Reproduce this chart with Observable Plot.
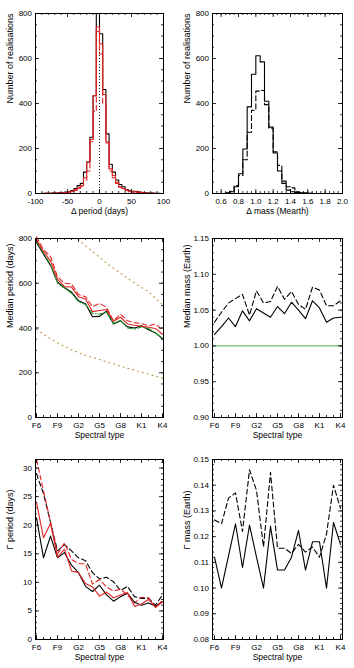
<!DOCTYPE html>
<html><head><meta charset="utf-8">
<script src="https://cdn.jsdelivr.net/npm/d3@7"></script>
<script src="https://cdn.jsdelivr.net/npm/@observablehq/plot@0.6"></script>
<style>
body{margin:0;background:#fff}
#c{position:relative;width:354px;height:668px;overflow:hidden}
#c > svg{position:absolute}
</style>
</head><body><div id="c"></div>
<script>
// ---------- data ----------
const types = ["F6","F7","F8","F9","G0","G1","G2","G3","G4","G5","G6","G7","G8","G9","K0","K1","K2","K3","K4"];
const typeTicks = ["F6","F9","G2","G5","G8","K1","K4"];

// panel 1: Δ period histogram, bins of 5 days from -100 to 100 (left edges)
const periodBinWidth = 5;
const periodBinLeft = d3.range(-100, 100, periodBinWidth);
const periodBlack   = [0,0,1,1,1,2,2,3,4,6,9,13,22,35,45,95,140,250,435,800, 710,462,265,130,95,60,40,30,18,12,10,8,6,4,3,2,2,1,1,0];
const periodRed     = [0,0,0,1,1,1,2,2,3,4,6,10,16,25,35,70,140,240,435,740, 665,440,230,110,80,50,30,22,15,8,6,10,8,3,2,1,1,1,0,0];
const periodRedDash = [0,0,0,1,1,1,2,2,3,4,6,9,14,22,30,60,100,230,365,720, 620,400,225,100,70,45,28,22,15,10,8,5,4,3,2,1,1,0,0,0];

// panel 2: Δ mass histogram, bins of 0.05 from 0.5 to 2.0 (left edges)
const massBinWidth = 0.05;
const massBinLeft = d3.range(0, 30).map(i => 0.5 + i * massBinWidth);
const massSolid  = [0,0,0,3,8,30,88,198,385,530,612,585,410,295,180,100,45,15,8,5,3,2,1,0,0,0,0,0,0,0];
const massDashed = [0,0,0,2,10,35,80,150,272,370,455,458,395,290,185,125,55,30,25,8,4,2,1,0,0,0,0,0,0,0];

// panel 3: median period (days)
const medPerBlack   = [782,730,680,605,580,560,522,508,450,452,475,418,432,405,400,410,392,378,352];
const medPerGreen   = [788,735,685,600,578,555,518,505,465,462,470,420,435,400,395,405,398,378,355];
const medPerRed     = [795,742,700,618,585,583,540,530,473,478,483,430,448,418,412,408,403,398,372];
const medPerRedDash = [808,750,720,630,600,597,550,540,495,510,492,432,462,432,424,420,410,418,390];
const medPerLowBound = [394,372,352,334,318,303,290,278,268,259,249,239,229,220,212,203,194,185,176];
const medPerUpBound  = [1100,1035,975,920,875,830,795,768,742,717,690,667,645,623,601,581,562,532,504];

// panel 4: median mass (Earth)
const medMassSolid  = [1.016,1.027,1.039,1.027,1.049,1.035,1.052,1.046,1.040,1.055,1.045,1.061,1.050,1.038,1.063,1.053,1.033,1.039,1.040];
const medMassDashed = [1.033,1.047,1.060,1.066,1.072,1.043,1.077,1.060,1.062,1.083,1.065,1.076,1.058,1.051,1.082,1.078,1.056,1.056,1.063];
const medMassRef = 1.00;

// panel 5: Γ period (days)
const gPerBlack     = [21.3,14.3,18.1,14.3,15.2,13.0,11.7,9.3,8.4,9.5,7.8,6.7,7.5,8.1,6.5,6.0,6.4,5.8,6.6];
const gPerRed       = [24.0,17.8,20.3,14.4,15.8,12.0,11.7,9.8,9.2,7.6,8.3,7.3,7.8,8.2,5.8,6.2,7.0,5.6,6.6];
const gPerBlackDash = [29.0,25.5,20.5,15.5,16.6,15.5,14.3,13.8,11.7,10.6,10.9,10.1,8.6,9.3,7.5,7.2,7.2,6.0,7.8];
const gPerRedDash   = [31.5,26.0,20.6,15.0,16.9,14.0,13.3,13.2,9.7,10.5,9.2,8.5,8.8,7.8,6.4,7.4,7.3,5.7,6.8];

// panel 6: Γ mass (Earth)
const gMassSolid  = [0.112,0.100,0.1125,0.125,0.108,0.1245,0.112,0.100,0.124,0.107,0.107,0.112,0.1224,0.107,0.118,0.118,0.100,0.1255,0.117];
const gMassDashed = [0.1265,0.125,0.135,0.137,0.122,0.146,0.138,0.116,0.145,0.1155,0.1155,0.1135,0.117,0.114,0.116,0.112,0.121,0.140,0.131];

// ---------- helpers ----------
const RED = "#e02424", GREEN = "#1f9e2a", BROWN = "#c0904a";
const FONT = "'Liberation Sans', Arial, Helvetica, sans-serif";
const DASH = "5,3";

function steps(lefts, counts, w) {
  const pts = lefts.map((x, i) => ({x, y: counts[i]}));
  pts.push({x: lefts[lefts.length - 1] + w, y: counts[counts.length - 1]});
  return pts;
}
function series(values) { return types.map((t, i) => ({t, v: values[i]})); }

function panel(o) {
  const pw = o.width - o.ml - o.mr, ph = o.height - o.mt - o.mb;
  const M = 4, m = 2;
  const ticks = [
    Plot.ruleX(o.xMinor, {x: d => d, insetTop: ph - m, strokeWidth: 0.8}),
    Plot.ruleX(o.xMinor, {x: d => d, insetBottom: ph - m, strokeWidth: 0.8}),
    Plot.ruleX(o.xTicks, {x: d => d, insetTop: ph - M, strokeWidth: 0.8}),
    Plot.ruleX(o.xTicks, {x: d => d, insetBottom: ph - M, strokeWidth: 0.8}),
    Plot.ruleY(o.yMinor, {y: d => d, insetRight: pw - m, strokeWidth: 0.8}),
    Plot.ruleY(o.yMinor, {y: d => d, insetLeft: pw - m, strokeWidth: 0.8}),
    Plot.ruleY(o.yTicks, {y: d => d, insetRight: pw - M, strokeWidth: 0.8}),
    Plot.ruleY(o.yTicks, {y: d => d, insetLeft: pw - M, strokeWidth: 0.8})
  ];
  const svg = Plot.plot({
    width: o.width, height: o.height,
    marginLeft: o.ml, marginRight: o.mr, marginTop: o.mt, marginBottom: o.mb,
    x: o.x, y: o.y,
    style: {fontFamily: FONT, fontSize: "8px", color: "#000", background: "transparent", overflow: "visible"},
    marks: [
      ...o.marks,
      ...ticks,
      Plot.frame({stroke: "#000", strokeWidth: 1}),
      Plot.axisX({ticks: o.xTicks, tickSize: 0, tickPadding: 4.5, tickFormat: o.xFmt, label: null, fontSize: 8}),
      Plot.axisY({ticks: o.yTicks, tickSize: 0, tickPadding: 3.5, tickFormat: o.yFmt, label: null, fontSize: 8}),
      Plot.text([o.xLabel], {text: d => d, frameAnchor: "bottom", dy: 20, fontSize: 8.5}),
      Plot.text([o.yLabel], {text: d => d, frameAnchor: "left", rotate: -90, dx: -25, fontSize: 9})
    ]
  });
  svg.style.left = o.left + "px";
  svg.style.top = o.top + "px";
  document.getElementById("c").appendChild(svg);
}

const L = {left: 0, width: 177, ml: 35, mr: 14};
const R = {left: 177, width: 177, ml: 35, mr: 12};
const row1 = {top: 0, height: 220, mt: 13, mb: 27};
const row2 = {top: 222, height: 220, mt: 16, mb: 25};
const row3 = {top: 444, height: 224, mt: 15, mb: 29};
const typeX = {type: "point", domain: types, padding: 0};
const typeCommon = {x: typeX, xTicks: typeTicks, xMinor: types, xFmt: d => d, xLabel: "Spectral type"};
const fmtInt = d => String(d);

// panel 1
panel({...L, ...row1,
  x: {domain: [-100, 100]}, y: {domain: [0, 800]},
  xTicks: [-100, -50, 0, 50, 100], xMinor: d3.range(-100, 101, 10), xFmt: fmtInt,
  yTicks: d3.range(0, 801, 200), yMinor: d3.range(0, 801, 50), yFmt: fmtInt,
  xLabel: "Δ period (days)", yLabel: "Number of realisations",
  marks: [
    Plot.ruleX([0], {strokeDasharray: "1,2", strokeWidth: 0.9}),
    Plot.line(steps(periodBinLeft, periodBlack, periodBinWidth), {x: "x", y: "y", curve: "step-after", stroke: "#000", strokeWidth: 1.1}),
    Plot.line(steps(periodBinLeft, periodRedDash, periodBinWidth), {x: "x", y: "y", curve: "step-after", stroke: RED, strokeWidth: 1.1, strokeDasharray: DASH}),
    Plot.line(steps(periodBinLeft, periodRed, periodBinWidth), {x: "x", y: "y", curve: "step-after", stroke: RED, strokeWidth: 1.1})
  ]
});

// panel 2
panel({...R, ...row1,
  x: {domain: [0.5, 2.0]}, y: {domain: [0, 800]},
  xTicks: d3.range(3, 11).map(i => i * 0.2), xMinor: d3.range(10, 41).map(i => i * 0.05), xFmt: d3.format(".1f"),
  yTicks: d3.range(0, 801, 200), yMinor: d3.range(0, 801, 50), yFmt: fmtInt,
  xLabel: "Δ mass (Mearth)", yLabel: "Number of realisations",
  marks: [
    Plot.line(steps(massBinLeft, massDashed, massBinWidth), {x: "x", y: "y", curve: "step-after", stroke: "#000", strokeWidth: 1.1, strokeDasharray: DASH}),
    Plot.line(steps(massBinLeft, massSolid, massBinWidth), {x: "x", y: "y", curve: "step-after", stroke: "#000", strokeWidth: 1.1})
  ]
});

// panel 3
panel({...L, ...row2, ...typeCommon,
  y: {domain: [0, 800]},
  yTicks: d3.range(0, 801, 200), yMinor: d3.range(0, 801, 50), yFmt: fmtInt,
  yLabel: "Median period (days)",
  marks: [
    Plot.line(series(medPerLowBound), {x: "t", y: "v", stroke: BROWN, strokeDasharray: "1,4", strokeWidth: 1.1, clip: true}),
    Plot.line(series(medPerUpBound), {x: "t", y: "v", stroke: BROWN, strokeDasharray: "1,4", strokeWidth: 1.1, clip: true}),
    Plot.line(series(medPerBlack), {x: "t", y: "v", stroke: "#000", strokeWidth: 1.1}),
    Plot.line(series(medPerGreen), {x: "t", y: "v", stroke: GREEN, strokeWidth: 1.1, strokeDasharray: "5,2,1,2"}),
    Plot.line(series(medPerRed), {x: "t", y: "v", stroke: RED, strokeWidth: 1.1}),
    Plot.line(series(medPerRedDash), {x: "t", y: "v", stroke: RED, strokeWidth: 1.1, strokeDasharray: DASH})
  ]
});

// panel 4
panel({...R, ...row2, ...typeCommon,
  y: {domain: [0.90, 1.15]},
  yTicks: d3.range(0, 6).map(i => 0.90 + i * 0.05), yMinor: d3.range(0, 26).map(i => 0.90 + i * 0.01), yFmt: d3.format(".2f"),
  yLabel: "Median mass (Earth)",
  marks: [
    Plot.ruleY([medMassRef], {stroke: "#4caf50", strokeWidth: 1}),
    Plot.line(series(medMassDashed), {x: "t", y: "v", stroke: "#000", strokeWidth: 1.1, strokeDasharray: DASH}),
    Plot.line(series(medMassSolid), {x: "t", y: "v", stroke: "#000", strokeWidth: 1.1})
  ]
});

// panel 5
panel({...L, ...row3, ...typeCommon,
  y: {domain: [0, 31.5]},
  yTicks: d3.range(0, 31, 5), yMinor: d3.range(0, 32, 1), yFmt: fmtInt,
  yLabel: "Γ period (days)",
  marks: [
    Plot.line(series(gPerBlackDash), {x: "t", y: "v", stroke: "#000", strokeWidth: 1.1, strokeDasharray: DASH}),
    Plot.line(series(gPerRedDash), {x: "t", y: "v", stroke: RED, strokeWidth: 1.1, strokeDasharray: DASH, clip: true}),
    Plot.line(series(gPerBlack), {x: "t", y: "v", stroke: "#000", strokeWidth: 1.1}),
    Plot.line(series(gPerRed), {x: "t", y: "v", stroke: RED, strokeWidth: 1.1})
  ]
});

// panel 6
panel({...R, ...row3, ...typeCommon,
  y: {domain: [0.08, 0.15]},
  yTicks: d3.range(0, 8).map(i => 0.08 + i * 0.01), yMinor: d3.range(0, 36).map(i => 0.08 + i * 0.002), yFmt: d3.format(".2f"),
  yLabel: "Γ mass (Earth)",
  marks: [
    Plot.line(series(gMassDashed), {x: "t", y: "v", stroke: "#000", strokeWidth: 1.1, strokeDasharray: DASH}),
    Plot.line(series(gMassSolid), {x: "t", y: "v", stroke: "#000", strokeWidth: 1.1})
  ]
});
</script>
</body></html>
